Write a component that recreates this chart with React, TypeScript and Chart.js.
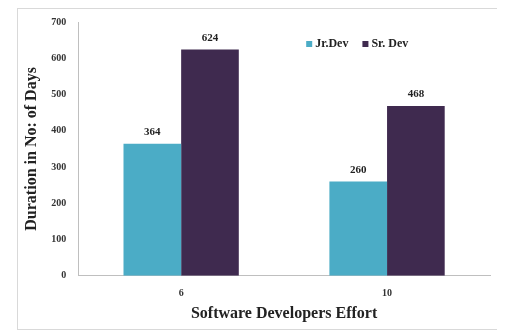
import React, { useEffect, useRef } from "react";
import { Chart, registerables } from "chart.js";

Chart.register(...registerables);

const categories = ["6", "10"];
const seriesNames = ["Jr.Dev", "Sr. Dev"];
const jrDev = [364, 260];
const srDev = [624, 468];
const yTicks = [0, 100, 200, 300, 400, 500, 600, 700];

const colors = ["#4BACC6", "#3F2A4F"];
const FONT = "'Liberation Serif', 'DejaVu Serif', serif";

const valueLabels = {
  id: "valueLabels",
  afterDatasetsDraw(chart: any) {
    const ctx = chart.ctx;
    ctx.save();
    ctx.font = `bold 11px ${FONT}`;
    ctx.fillStyle = "#222";
    ctx.textAlign = "center";
    ctx.textBaseline = "bottom";
    chart.data.datasets.forEach((ds: any, i: number) => {
      const meta = chart.getDatasetMeta(i);
      meta.data.forEach((bar: any, j: number) => {
        ctx.fillText(String(ds.data[j]), bar.x, bar.y - 6);
      });
    });
    ctx.restore();
  },
};

const customLegend = {
  id: "customLegend",
  afterDraw(chart: any) {
    const ctx = chart.ctx;
    const area = chart.chartArea;
    ctx.save();
    ctx.font = `bold 12px ${FONT}`;
    ctx.textBaseline = "middle";
    let x = area.left + 228;
    const y = area.top + 22;
    chart.data.datasets.forEach((ds: any) => {
      ctx.fillStyle = ds.backgroundColor;
      ctx.fillRect(x, y - 3, 6, 6);
      x += 9;
      ctx.fillStyle = "#222";
      ctx.fillText(ds.label, x, y);
      x += ctx.measureText(ds.label).width + 14;
    });
    ctx.restore();
  },
};

const frame = {
  id: "frame",
  beforeDraw(chart: any) {
    const ctx = chart.ctx;
    ctx.save();
    ctx.fillStyle = "#fff";
    ctx.fillRect(0, 0, chart.width, chart.height);
    ctx.strokeStyle = "#d9d9d9";
    ctx.lineWidth = 1;
    ctx.strokeRect(9.5, 0.5, chart.width - 9, chart.height - 2);
    ctx.restore();
  },
};

export default function App() {
  const ref = useRef<HTMLCanvasElement>(null);
  useEffect(() => {
    if (!ref.current) return;
    const chart = new Chart(ref.current, {
      type: "bar",
      data: {
        labels: categories,
        datasets: [
          { label: seriesNames[0], data: jrDev, backgroundColor: colors[0] },
          { label: seriesNames[1], data: srDev, backgroundColor: colors[1] },
        ],
      },
      options: {
        animation: false,
        responsive: false,
        maintainAspectRatio: false,
        layout: { padding: { top: 2, right: 15, left: 14, bottom: 8 } },
        datasets: { bar: { barPercentage: 1, categoryPercentage: 0.56 } },
        plugins: {
          legend: { display: false },
          tooltip: { enabled: false },
        },
        scales: {
          x: {
            grid: { display: false, drawTicks: false },
            border: { color: "#bfbfbf" },
            ticks: { color: "#333", font: { family: FONT, size: 10, weight: "bold" }, padding: 12 },
            title: {
              display: true,
              text: "Software Developers Effort",
              color: "#222",
              font: { family: FONT, size: 16, weight: "bold" },
              padding: { top: -8, bottom: 0 },
            },
          },
          y: {
            min: 0,
            max: 700,
            afterBuildTicks: (axis: any) => {
              axis.ticks = yTicks.map((v) => ({ value: v }));
            },
            grid: { display: false, drawOnChartArea: false, drawTicks: true, tickLength: 4, color: "#bfbfbf" },
            border: { color: "#bfbfbf" },
            ticks: { color: "#333", font: { family: FONT, size: 10, weight: "bold" }, padding: 8 },
            title: {
              display: true,
              text: "Duration in No: of Days",
              color: "#222",
              font: { family: FONT, size: 16, weight: "bold" },
              padding: { top: 0, bottom: 2 },
            },
          },
        },
      },
      plugins: [frame, valueLabels, customLegend],
    });
    return () => chart.destroy();
  }, []);
  return <canvas ref={ref} width={497} height={323} style={{ display: "block" }} />;
}
